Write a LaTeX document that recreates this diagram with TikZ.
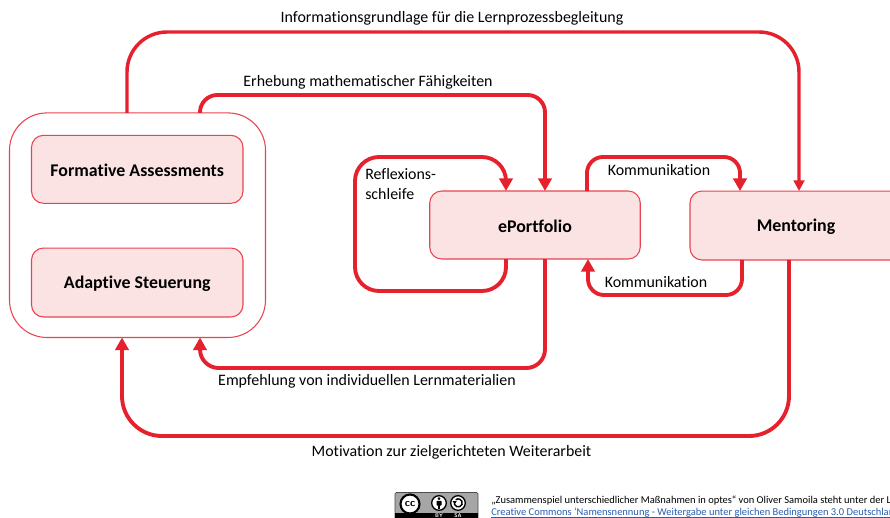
\documentclass[tikz,border=0pt]{standalone}
\usepackage{fontspec}
\setmainfont[Ligatures=CommonOff]{Carlito}
\usetikzlibrary{arrows.meta}
\definecolor{lin}{HTML}{E6212E}
\definecolor{edge}{HTML}{E8444F}
\definecolor{fil}{HTML}{FBE3E4}
\definecolor{lnk}{HTML}{2A5DB0}
\tikzset{
  x=0.75pt,y=-0.75pt,
  box/.style={draw=edge,line width=0.8pt,fill=fil,rounded corners=9pt,inner sep=0pt,outer sep=0pt,text=black},
  boxlab/.style={font=\fontsize{13.4}{16}\selectfont\bfseries,text=black,inner sep=0pt},
  outerbox/.style={draw=edge,line width=0.8pt,fill=white,rounded corners=28pt,inner sep=0pt,outer sep=0pt},
  conn/.style={draw=lin,line width=2.9pt,line join=round},
  thinconn/.style={draw=lin,line width=2.6pt,line join=round},
  tip/.style={-{Triangle[length=9.5pt,width=10pt]}},
  smalltip/.style={-{Triangle[length=8pt,width=8pt]}},
  lab/.style={font=\fontsize{11.95}{15}\selectfont,text=black,inner sep=0pt},
  note/.style={font=\fontsize{7.87}{9}\selectfont,inner sep=0pt,anchor=base west},
}
\begin{document}
\begin{tikzpicture}
\useasboundingbox (0,0) rectangle (890,518);
\clip (0,0) rectangle (890,518);
\fill[white] (0,0) rectangle (890,518);

\node[outerbox,minimum width=192pt,minimum height=168.4pt] (outer) at (137.5,225.2) {};
\node[box,minimum width=158.6pt,minimum height=51pt] (fa) at (137.25,169.3) {};
\node[box,minimum width=158.6pt,minimum height=51.7pt] (as) at (137.25,282.5) {};
\node[box,minimum width=157.9pt,minimum height=51pt] (ep) at (535,225) {};
\node[box,minimum width=180pt,minimum height=51.7pt] (me) at (810,225.5) {};
\node[boxlab] (falab) at (137.25,170.5) {Formative Assessments};
\node[boxlab] (aslab) at (137.25,283.5) {Adaptive Steuerung};
\node[boxlab] (eplab) at (535,226.5) {ePortfolio};
\node[boxlab] (melab) at (796,226.5) {Mentoring};

% connector way points
\coordinate (ctop) at (460,32);
\coordinate (cerh) at (370,95);
\coordinate (cref1) at (355,291);
\coordinate (cref2) at (430,157);
\coordinate (ck1) at (660,157);
\coordinate (ck2) at (660,295);
\coordinate (cemp) at (370,368);
\coordinate (cmot) at (450,436);

\draw[thinconn,smalltip,rounded corners=30pt] ([shift={(-10.5,0)}]outer.north) |- (ctop) -| ([shift={(-11,0)}]me.north);
\draw[conn,tip,rounded corners=13pt] ([shift={(62.5,0)}]outer.north) |- (cerh) -| ([shift={(10,0)}]ep.north);
\draw[conn,tip,rounded corners=18pt] ([shift={(-29,0)}]ep.south) |- (cref1) |- (cref2) -| ([shift={(-29,0)}]ep.north);
\draw[conn,tip,rounded corners=12pt] ([shift={(52,0)}]ep.north) |- (ck1) -| ([shift={(-70,0)}]me.north);
\draw[conn,tip,rounded corners=12pt] ([shift={(-68,0)}]me.south) |- (ck2) -| ([shift={(53,0)}]ep.south);
\draw[conn,tip,rounded corners=14pt] ([shift={(10,0)}]ep.south) |- (cemp) -| ([shift={(62.5,0)}]outer.south);
\draw[conn,tip,rounded corners=30pt] ([shift={(-21,0)}]me.south) |- (cmot) -| ([shift={(-15.5,0)}]outer.south);

\node[lab] (l1) at (452,18.5) {Informationsgrundlage für die Lernprozessbegleitung};
\node[lab] (l2) at (368,82) {Erhebung mathematischer Fähigkeiten};
\node[lab,anchor=west,align=left] (l3) at (365,184.5) {Reflexions-\\schleife};
\node[lab] (l4) at (659,170.5) {Kommunikation};
\node[lab] (l5) at (656,282.5) {Kommunikation};
\node[lab] (l6) at (367,381.5) {Empfehlung von individuellen Lernmaterialien};
\node[lab] (l7) at (451.5,452) {Motivation zur zielgerichteten Weiterarbeit};

% licence badge
\fill[draw=black!70,line width=0.5pt,fill=black!35,rounded corners=1pt] (395,492.5) rectangle (478,525);
\fill[black] (395,513) rectangle (478,525);
\draw[black,fill=white,line width=1.6pt] (410,504) circle (9.5);
\node[font=\fontsize{8}{8}\selectfont\sffamily\bfseries,inner sep=0pt] (cc) at (410,504) {cc};
\draw[black,fill=white,line width=1pt] (439,503) circle (7.3);
\fill[black] (439,498.7) circle (1.5);
\fill[black,rounded corners=0.5pt] (436.5,500.8) rectangle (441.5,505.5);
\fill[black] (437.6,505) rectangle (440.4,509);
\draw[black,fill=white,line width=1pt] (458,503) circle (7.3);
\draw[black,line width=1.1pt] (454.5,501.5) arc (200:-130:4);
\fill[black] (452.5,501) -- (456.8,501) -- (454.6,504) -- cycle;
\node[font=\fontsize{4}{4}\selectfont\sffamily\bfseries,text=white,inner sep=0pt] (by) at (439,516) {BY};
\node[font=\fontsize{4}{4}\selectfont\sffamily\bfseries,text=white,inner sep=0pt] (sa) at (458,516) {SA};

\node[note] (n1) at (491,503.5) {„Zusammenspiel unterschiedlicher Maßnahmen in optes“ von Oliver Samoila steht unter der L};
\node[note,text=lnk] (n2) at (491,515.5) {Creative Commons ‘Namensnennung - Weitergabe unter gleichen Bedingungen 3.0 Deutschlan};
\draw[lnk,line width=0.6pt] ([yshift=-1.1pt]n2.base west) -- ([yshift=-1.1pt]n2.base east);
\end{tikzpicture}
\end{document}
